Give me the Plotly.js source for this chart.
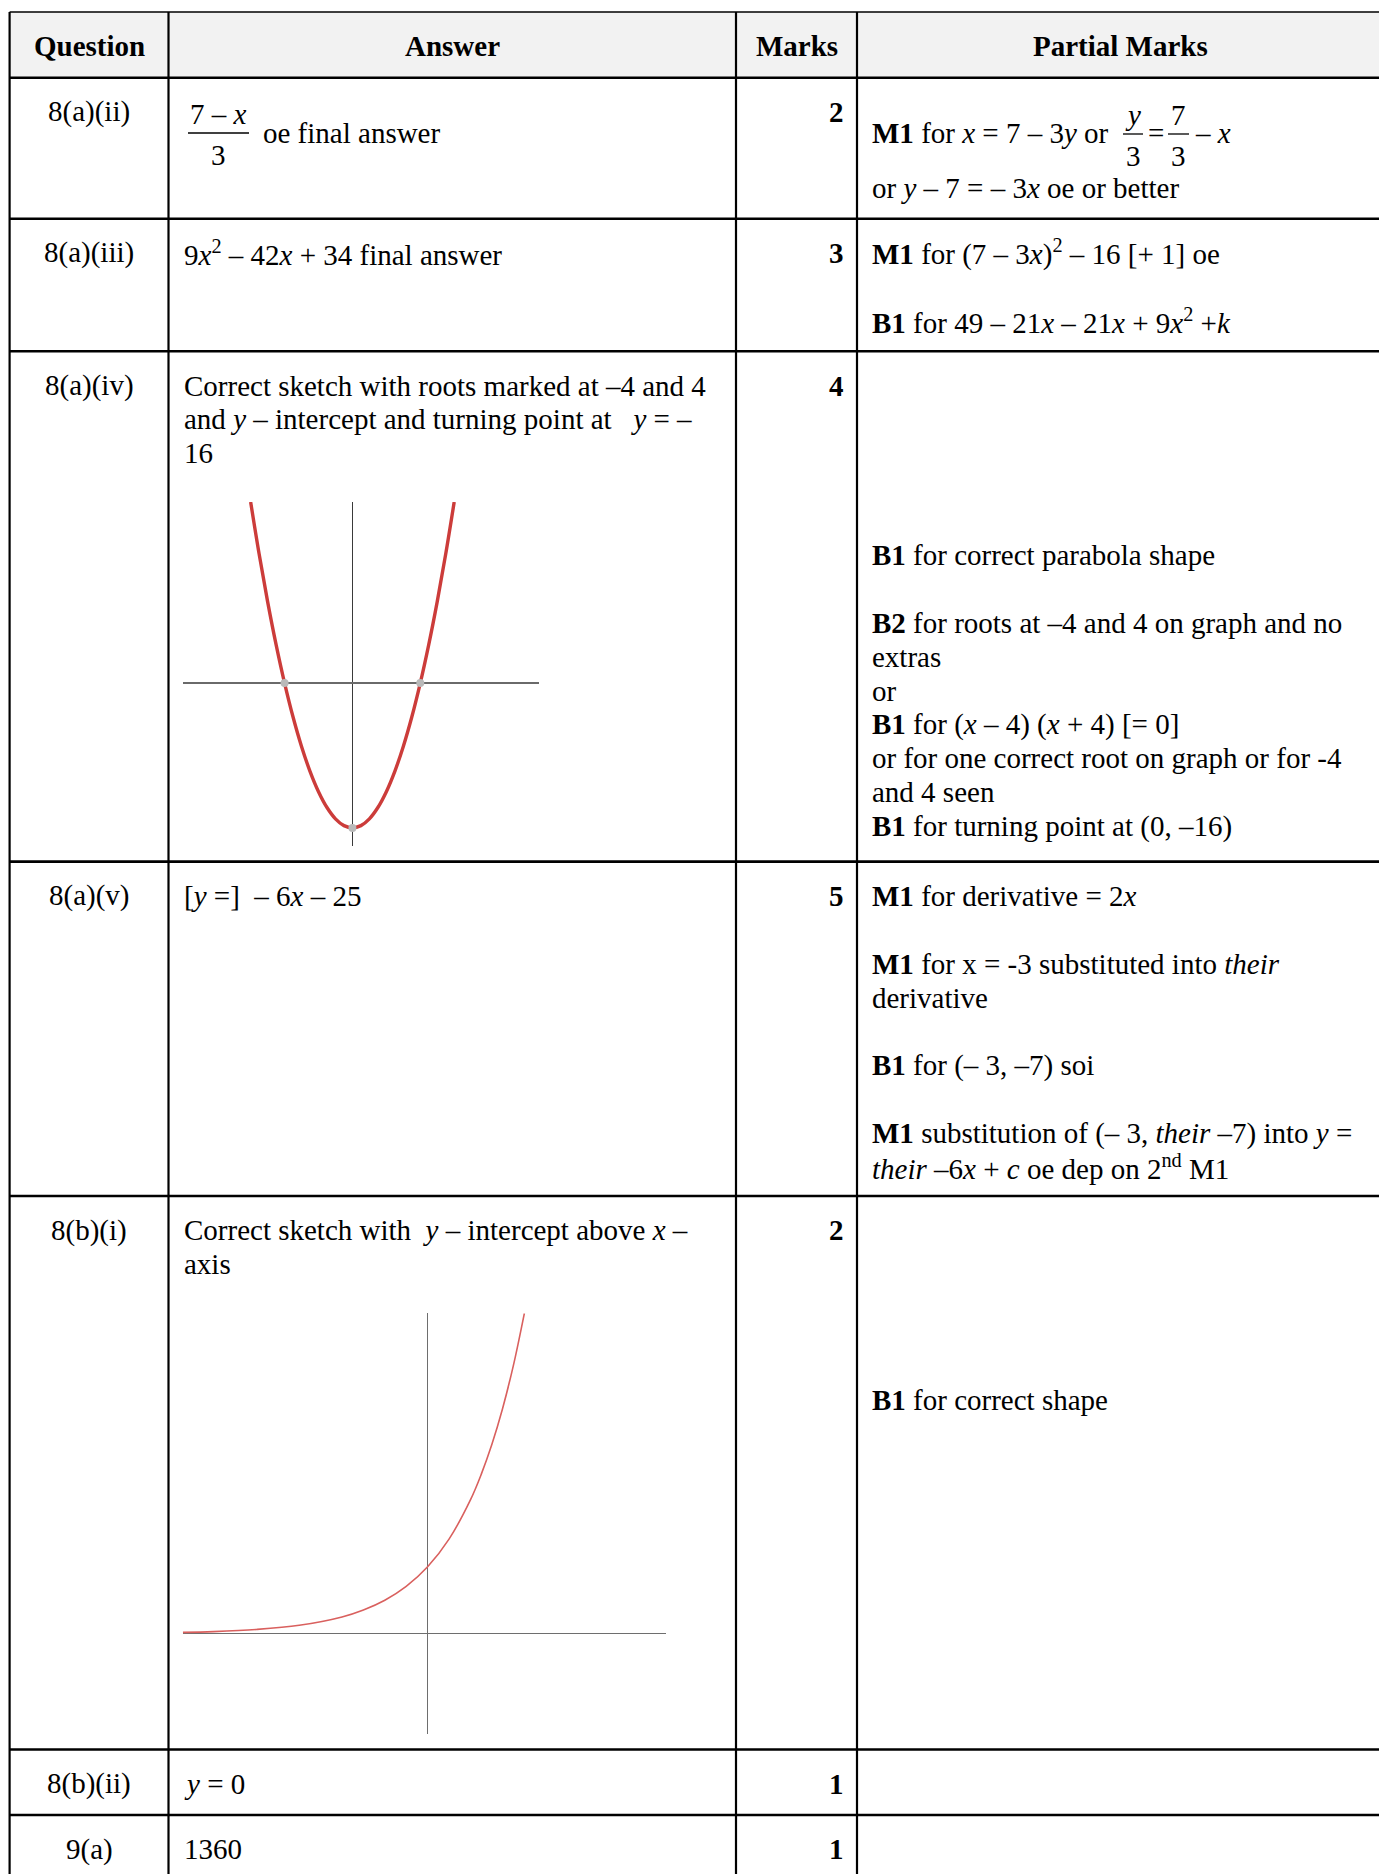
<!DOCTYPE html>
<html>
<head>
<meta charset="utf-8">
<script src="https://cdn.plot.ly/plotly-3.0.1.min.js"></script>
<style>
body{margin:0;background:#fff}
#chart{width:1379px;height:1874px}
</style>
</head>
<body>
<div id="chart"></div>
<script>
let W=1379, H=1874
let FONT='Liberation Serif, Times New Roman, serif'

// ---- table text ----
let headers=['Question','Answer','Marks','Partial Marks']
let questions=['8(a)(ii)','8(a)(iii)','8(a)(iv)','8(a)(v)','8(b)(i)','8(b)(ii)','9(a)']
let marks=['2','3','4','5','2','1','1']
let answers=[
    [],   // row 1 is a fraction, see below
    ['9<i>x</i><sup>2</sup> – 42<i>x</i> + 34 final answer'],
    ['Correct sketch with roots marked at –4 and 4','and <i>y</i> – intercept and turning point at \u00a0\u00a0<i>y</i> = –','16'],
    ['[<i>y</i> =] \u00a0– 6<i>x</i> – 25'],
    ['Correct sketch with \u00a0<i>y</i> – intercept above <i>x</i> –','axis'],
    ['<i>y</i> = 0'],
    ['1360']
]
let partials=[
    [],   // row 1 has fractions, see below
    ['<b>M1</b> for (7 – 3<i>x</i>)<sup>2</sup> – 16 [+ 1] oe','','<b>B1</b> for 49 – 21<i>x</i> – 21<i>x</i> + 9<i>x</i><sup>2</sup> +<i>k</i>'],
    ['','','','','','<b>B1</b> for correct parabola shape','','<b>B2</b> for roots at –4 and 4 on graph and no','extras','or',
     '<b>B1</b> for (<i>x</i> – 4) (<i>x</i> + 4) [= 0]','or for one correct root on graph or for -4','and 4 seen','<b>B1</b> for turning point at (0, –16)'],
    ['<b>M1</b> for derivative = 2<i>x</i>','','<b>M1</b> for x = -3 substituted into <i>their</i>','derivative','','<b>B1</b> for (– 3, –7) soi','',
     '<b>M1</b> substitution of (– 3, <i>their</i> –7) into <i>y</i> =','<i>their</i> –6<i>x</i> + <i>c</i> oe dep on 2<sup>nd</sup> M1'],
    ['','','','','','<b>B1</b> for correct shape'],
    [],
    []
]
// row 1 pieces
let ansFrac=['7 – <i>x</i>','3']
let ansAfter='oe final answer'
let partLead='<b>M1</b> for <i>x</i> = 7 – 3<i>y</i> or'
let partFracs=[['<i>y</i>','3'],['7','3']]
let partEq='='
let partTail='– <i>x</i>'
let partNext='or <i>y</i> – 7 = – 3<i>x</i> oe or better'

// ---- sketch data ----
// parabola y = x^2 - 16 (roots -4, 4, turning point -16)
let parabX=[-6,-5.5,-5,-4.5,-4,-3.5,-3,-2.5,-2,-1.5,-1,-0.5,0,0.5,1,1.5,2,2.5,3,3.5,4,4.5,5,5.5,6]
let parabY=[20,14.25,9,4.25,0,-3.75,-7,-9.75,-12,-13.75,-15,-15.75,-16,-15.75,-15,-13.75,-12,-9.75,-7,-3.75,0,4.25,9,14.25,20]
let parabPtsX=[-4,4,0]
let parabPtsY=[0,0,-16]
// exponential curve, intercept 1
let expX=[-5.72,-5,-4,-3,-2,-1.5,-1,-0.5,0,0.5,1,1.25,1.5,1.75,2,2.26]
let expY=[0.019,0.031,0.063,0.125,0.25,0.354,0.5,0.707,1,1.414,2,2.378,2.828,3.364,4,4.79]

// ---- layout constants (pixels) ----
let colX=[9.6,168.5,736,857,W]
let rowY=[12,77.7,218.7,351.3,861.6,1196,1749.5,1815,H]
let firstLine=34.2, lineStep=33.9
let box1={x0:182.8,x1:539,y0:502,y1:846,xr:[-10,11],yr:[-18,20]}
let box2={x0:182.8,x1:665.6,y0:1313.3,y1:1734,xr:[-5.72,5.56],yr:[-1.5,4.79]}

let ann=[]
let shapes=[]
let txt=(x,y,t,anchor,bold)=>{
    ann.push({xref:'x',yref:'y',x:x,y:y,text:bold?'<b>'+t+'</b>':t,showarrow:false,
        xanchor:anchor,yanchor:'middle',borderpad:0,font:{family:FONT,size:29,color:'#000'}})
}
let line=(x0,y0,x1,y1,w,c)=>{
    shapes.push({type:'line',xref:'x',yref:'y',x0:x0,y0:y0,x1:x1,y1:y1,layer:'above',line:{color:c||'#000',width:w}})
}
let frac=(cx,half,barY,num,den)=>{
    line(cx-half,barY,cx+half,barY,1.3)
    txt(cx,barY-19,num,'center')
    txt(cx,barY+22,den,'center')
}

// header
shapes.push({type:'rect',xref:'x',yref:'y',x0:colX[0],x1:W,y0:rowY[0],y1:rowY[1],layer:'below',fillcolor:'#f2f2f2',line:{width:0}})
headers.forEach((h,i)=>{
    txt((colX[i]+colX[i+1])/2+(i==3?2:0),(rowY[0]+rowY[1])/2+1,h,'center',true)
})

// rows
questions.forEach((q,r)=>{
    let y0=rowY[r+1]+firstLine
    txt((colX[0]+colX[1])/2,y0,q,'center')
    txt(colX[3]-12,y0,marks[r],'right',true)
    answers[r].forEach((a,i)=>{ if(a) txt(colX[1]+14.3,y0+i*lineStep,a,'left') })
    partials[r].forEach((p,i)=>{ if(p) txt(colX[3]+14,y0+i*lineStep,p,'left') })
})

// row 1 fractions
let bar1=133
frac(218.5,30.5,bar1,ansFrac[0],ansFrac[1])
txt(262,bar1,ansAfter,'left')
txt(colX[3]+14,bar1,partLead,'left')
frac(1133,10,bar1+1,partFracs[0][0],partFracs[0][1])
txt(1155.5,bar1,partEq,'center')
frac(1178.5,10.5,bar1+1,partFracs[1][0],partFracs[1][1])
txt(1194,bar1,partTail,'left')
txt(colX[3]+14,bar1+55,partNext,'left')

// grid
line(colX[0],rowY[0],W,rowY[0],1.5)
for(let r=1;r<rowY.length-1;r++){
    line(colX[0],rowY[r],W,rowY[r],2.6)
}
for(let c=0;c<4;c++){
    line(colX[c],rowY[0],colX[c],H,2.2)
}

let dom=b=>({x:[b.x0/W,b.x1/W],y:[1-b.y1/H,1-b.y0/H]})
let d1=dom(box1), d2=dom(box2)
let sketchAxis=(domain,range,zc,zw)=>({domain:domain,range:range,showgrid:false,zeroline:true,zerolinecolor:zc,zerolinewidth:zw,
    showticklabels:false,ticks:'',showline:false,fixedrange:true})

let traces=[
    {x:parabX,y:parabY,xaxis:'x2',yaxis:'y2',type:'scatter',mode:'lines',line:{color:'#cc3c3a',width:3.4,shape:'spline'},hoverinfo:'skip'},
    {x:parabPtsX,y:parabPtsY,xaxis:'x2',yaxis:'y2',type:'scatter',mode:'markers',marker:{color:'#b9b9b9',size:8},cliponaxis:false,hoverinfo:'skip'},
    {x:expX,y:expY,xaxis:'x3',yaxis:'y3',type:'scatter',mode:'lines',line:{color:'#d9605e',width:1.6,shape:'spline'},hoverinfo:'skip'}
]

let layout={
    width:W,height:H,
    margin:{l:0,r:0,t:0,b:0},
    paper_bgcolor:'#fff',plot_bgcolor:'rgba(0,0,0,0)',
    showlegend:false,hovermode:false,
    xaxis:{domain:[0,1],range:[0,W],visible:false,fixedrange:true},
    yaxis:{domain:[0,1],range:[H,0],visible:false,fixedrange:true},
    // x-axis zeroline is the vertical line, y-axis zeroline the horizontal one
    xaxis2:Object.assign(sketchAxis(d1.x,box1.xr,'#3a3a3a',1.8),{anchor:'y2'}),
    yaxis2:Object.assign(sketchAxis(d1.y,box1.yr,'#6a6a6a',1.5),{anchor:'x2'}),
    xaxis3:Object.assign(sketchAxis(d2.x,box2.xr,'#6e6e6e',1.3),{anchor:'y3'}),
    yaxis3:Object.assign(sketchAxis(d2.y,box2.yr,'#6e6e6e',1.3),{anchor:'x3'}),
    shapes:shapes,
    annotations:ann
}

Plotly.newPlot('chart',traces,layout,{staticPlot:true,displayModeBar:false})
</script>
</body>
</html>
